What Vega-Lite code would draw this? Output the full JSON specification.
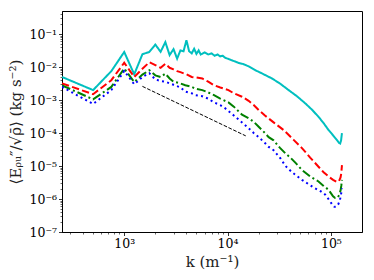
{
"$schema":"https://vega.github.io/schema/vega-lite/v6.json",
"width":300,"height":221,
"autosize":{"type":"none"},
"padding":{"left":62,"top":11,"right":12,"bottom":48},
"background":"white",
"config":{"view":{"stroke":"black","strokeWidth":1},
"axis":{"grid":false,"labelFont":"DejaVu Serif","titleFont":"DejaVu Serif","labelFontSize":12.5,"titleFontSize":15,"titleFontWeight":"normal","labelColor":"black","titleColor":"#222","tickColor":"black","domainColor":"black","tickSize":3.5,"tickWidth":0.8,"labelPadding":2}},
"datasets":{
"main":[
{"s":"c","k":250,"E":0.005},{"s":"c","k":500,"E":0.002},{"s":"c","k":750,"E":0.0075},{"s":"c","k":1000,"E":0.0286},{"s":"c","k":1250,"E":0.006},{"s":"c","k":1500,"E":0.0245},{"s":"c","k":1750,"E":0.0286},{"s":"c","k":2000,"E":0.048},{"s":"c","k":2250,"E":0.029},{"s":"c","k":2500,"E":0.057},{"s":"c","k":2750,"E":0.023},{"s":"c","k":3000,"E":0.035},{"s":"c","k":3250,"E":0.018},{"s":"c","k":3500,"E":0.032},{"s":"c","k":3750,"E":0.03},{"s":"c","k":4000,"E":0.065},{"s":"c","k":4250,"E":0.03},{"s":"c","k":4500,"E":0.026},{"s":"c","k":4750,"E":0.036},{"s":"c","k":5000,"E":0.025},{"s":"c","k":5250,"E":0.032},{"s":"c","k":5500,"E":0.024},{"s":"c","k":6000,"E":0.028},{"s":"c","k":6500,"E":0.024},{"s":"c","k":7000,"E":0.026},{"s":"c","k":7500,"E":0.022},{"s":"c","k":8000,"E":0.024},{"s":"c","k":8500,"E":0.021},{"s":"c","k":9000,"E":0.022},{"s":"c","k":9500,"E":0.019},{"s":"c","k":10000,"E":0.018},{"s":"c","k":11000,"E":0.016},{"s":"c","k":12000,"E":0.0145},{"s":"c","k":12800,"E":0.0133},{"s":"c","k":14000,"E":0.0125},{"s":"c","k":16000,"E":0.0105},{"s":"c","k":18600,"E":0.008},{"s":"c","k":22000,"E":0.0062},{"s":"c","k":26900,"E":0.0045},{"s":"c","k":32000,"E":0.0032},{"s":"c","k":39000,"E":0.002},{"s":"c","k":47000,"E":0.0013},{"s":"c","k":56600,"E":0.00079},{"s":"c","k":66000,"E":0.0005},{"s":"c","k":75900,"E":0.00031},{"s":"c","k":85000,"E":0.0002},{"s":"c","k":95000,"E":0.000123},{"s":"c","k":105000,"E":0.000085},{"s":"c","k":114000,"E":0.000062},{"s":"c","k":120000,"E":0.00005},{"s":"c","k":123000,"E":0.000048},{"s":"c","k":125500,"E":0.00006},{"s":"c","k":128000,"E":0.0001},
{"s":"r","k":250,"E":0.0032},{"s":"r","k":500,"E":0.0015},{"s":"r","k":750,"E":0.004},{"s":"r","k":1000,"E":0.0135},{"s":"r","k":1250,"E":0.005},{"s":"r","k":1500,"E":0.0089},{"s":"r","k":1750,"E":0.014},{"s":"r","k":2000,"E":0.0115},{"s":"r","k":2250,"E":0.0095},{"s":"r","k":2500,"E":0.0125},{"s":"r","k":2750,"E":0.0095},{"s":"r","k":3000,"E":0.0085},{"s":"r","k":3250,"E":0.0075},{"s":"r","k":3500,"E":0.007},{"s":"r","k":4000,"E":0.006},{"s":"r","k":4500,"E":0.005},{"s":"r","k":5000,"E":0.0048},{"s":"r","k":5700,"E":0.0045},{"s":"r","k":6500,"E":0.0036},{"s":"r","k":7400,"E":0.0028},{"s":"r","k":8500,"E":0.0024},{"s":"r","k":10200,"E":0.002},{"s":"r","k":11500,"E":0.0016},{"s":"r","k":13800,"E":0.00126},{"s":"r","k":16000,"E":0.00095},{"s":"r","k":17900,"E":0.00071},{"s":"r","k":20000,"E":0.0005},{"s":"r","k":23000,"E":0.00034},{"s":"r","k":27900,"E":0.00021},{"s":"r","k":34900,"E":0.000123},{"s":"r","k":43600,"E":0.000062},{"s":"r","k":52500,"E":0.000035},{"s":"r","k":63000,"E":0.000018},{"s":"r","k":75900,"E":0.0000095},{"s":"r","k":85000,"E":0.0000065},{"s":"r","k":95000,"E":0.0000048},{"s":"r","k":105000,"E":0.0000038},{"s":"r","k":114000,"E":0.0000033},{"s":"r","k":120000,"E":0.0000035},{"s":"r","k":124000,"E":0.0000045},{"s":"r","k":126000,"E":0.000006},{"s":"r","k":128000,"E":0.0000107},
{"s":"g","k":250,"E":0.0028},{"s":"g","k":500,"E":0.00105},{"s":"g","k":750,"E":0.0025},{"s":"g","k":1000,"E":0.009},{"s":"g","k":1250,"E":0.0035},{"s":"g","k":1500,"E":0.0059},{"s":"g","k":1750,"E":0.008},{"s":"g","k":2000,"E":0.0056},{"s":"g","k":2250,"E":0.005},{"s":"g","k":2500,"E":0.0063},{"s":"g","k":2750,"E":0.0045},{"s":"g","k":3000,"E":0.0036},{"s":"g","k":3500,"E":0.0032},{"s":"g","k":3900,"E":0.0028},{"s":"g","k":4500,"E":0.0025},{"s":"g","k":4900,"E":0.0022},{"s":"g","k":5700,"E":0.002},{"s":"g","k":6500,"E":0.0017},{"s":"g","k":7400,"E":0.0014},{"s":"g","k":8500,"E":0.0011},{"s":"g","k":10200,"E":0.00085},{"s":"g","k":11500,"E":0.00063},{"s":"g","k":13800,"E":0.00036},{"s":"g","k":16000,"E":0.00028},{"s":"g","k":17900,"E":0.00022},{"s":"g","k":20000,"E":0.000155},{"s":"g","k":23000,"E":0.0001},{"s":"g","k":25000,"E":0.000075},{"s":"g","k":27900,"E":0.00006},{"s":"g","k":32000,"E":0.000036},{"s":"g","k":36400,"E":0.000024},{"s":"g","k":40500,"E":0.000018},{"s":"g","k":46000,"E":0.000012},{"s":"g","k":52500,"E":0.0000076},{"s":"g","k":63000,"E":0.0000048},{"s":"g","k":75900,"E":0.0000034},{"s":"g","k":85000,"E":0.0000025},{"s":"g","k":95000,"E":0.0000019},{"s":"g","k":105000,"E":0.0000012},{"s":"g","k":110000,"E":0.00000107},{"s":"g","k":116000,"E":0.0000011},{"s":"g","k":120000,"E":0.0000013},{"s":"g","k":124000,"E":0.0000018},{"s":"g","k":126000,"E":0.0000025},{"s":"g","k":128000,"E":0.0000038},
{"s":"b","k":250,"E":0.0025},{"s":"b","k":500,"E":0.00076},{"s":"b","k":750,"E":0.002},{"s":"b","k":1000,"E":0.0076},{"s":"b","k":1250,"E":0.003},{"s":"b","k":1500,"E":0.005},{"s":"b","k":1750,"E":0.0065},{"s":"b","k":2000,"E":0.0042},{"s":"b","k":2250,"E":0.0038},{"s":"b","k":2500,"E":0.0036},{"s":"b","k":2750,"E":0.0032},{"s":"b","k":3000,"E":0.0029},{"s":"b","k":3500,"E":0.0024},{"s":"b","k":3900,"E":0.0018},{"s":"b","k":4500,"E":0.0016},{"s":"b","k":4900,"E":0.0014},{"s":"b","k":5700,"E":0.0013},{"s":"b","k":6500,"E":0.0011},{"s":"b","k":7400,"E":0.00085},{"s":"b","k":8500,"E":0.0007},{"s":"b","k":9500,"E":0.00056},{"s":"b","k":11500,"E":0.00034},{"s":"b","k":13800,"E":0.00021},{"s":"b","k":16000,"E":0.00014},{"s":"b","k":17900,"E":0.0001},{"s":"b","k":20000,"E":0.000075},{"s":"b","k":23000,"E":0.00005},{"s":"b","k":25000,"E":0.000038},{"s":"b","k":27900,"E":0.00003},{"s":"b","k":32500,"E":0.000017},{"s":"b","k":36400,"E":0.00001},{"s":"b","k":42000,"E":0.0000065},{"s":"b","k":52500,"E":0.0000038},{"s":"b","k":62000,"E":0.0000027},{"s":"b","k":70500,"E":0.0000021},{"s":"b","k":80000,"E":0.0000017},{"s":"b","k":88300,"E":0.00000135},{"s":"b","k":97000,"E":0.0000009},{"s":"b","k":103000,"E":0.00000068},{"s":"b","k":108000,"E":0.00000058},{"s":"b","k":113000,"E":0.00000059},{"s":"b","k":118000,"E":0.0000007},{"s":"b","k":122000,"E":0.0000009},{"s":"b","k":125000,"E":0.0000013},{"s":"b","k":128000,"E":0.0000021}
],
"ref":[{"s":"ref","k":1500,"E":0.0026},{"s":"ref","k":15000,"E":0.000082}]
},
"resolve":{"axis":{"x":"independent","y":"independent"}},
"layer":[
{"data":{"name":"main"},
"mark":{"type":"line","strokeCap":"butt","clip":true},
"encoding":{
"x":{"field":"k","type":"quantitative","scale":{"type":"log","domain":[250,200000],"nice":false},
"axis":{"orient":"bottom","values":[1000,10000,100000],"labelExpr":"datum.value==1000?'10³':datum.value==10000?'10⁴':'10⁵'","title":"k (m⁻¹)","titlePadding":4}},
"y":{"field":"E","type":"quantitative","scale":{"type":"log","domain":[1e-7,0.5],"nice":false},
"axis":{"orient":"left","values":[1e-7,1e-6,1e-5,1e-4,1e-3,1e-2,1e-1],"labelExpr":"'10⁻' + ['0','¹','²','³','⁴','⁵','⁶','⁷'][round(-log(datum.value)/LN10)]","title":"⟨Eᵨᵤ″/√ρ̄⟩ (kg s⁻²)","titlePadding":5}},
"color":{"field":"s","type":"nominal","scale":{"domain":["c","r","g","b"],"range":["#00bfbf","#ff0000","#008000","#0000ff"]},"legend":null},
"strokeDash":{"field":"s","type":"nominal","scale":{"domain":["c","r","g","b"],"range":[[1,0],[7.4,3.2],[9,3,2,3],[2,3.3]]},"legend":null},
"strokeWidth":{"value":2},
"order":{"field":"k","type":"quantitative"}
}},
{"data":{"name":"ref"},
"mark":{"type":"line","color":"black","strokeWidth":1,"strokeDash":[3.7,1.6]},
"encoding":{
"x":{"field":"k","type":"quantitative","axis":{"orient":"bottom","values":[300,400,500,600,700,800,900,2000,3000,4000,5000,6000,7000,8000,9000,20000,30000,40000,50000,60000,70000,80000,90000],"labels":false,"title":null,"domain":false,"tickSize":2,"tickWidth":0.6}},
"y":{"field":"E","type":"quantitative","axis":{"orient":"left","values":[2e-7,3e-7,4e-7,5e-7,6e-7,7e-7,8e-7,9e-7,2e-6,3e-6,4e-6,5e-6,6e-6,7e-6,8e-6,9e-6,2e-5,3e-5,4e-5,5e-5,6e-5,7e-5,8e-5,9e-5,2e-4,3e-4,4e-4,5e-4,6e-4,7e-4,8e-4,9e-4,2e-3,3e-3,4e-3,5e-3,6e-3,7e-3,8e-3,9e-3,2e-2,3e-2,4e-2,5e-2,6e-2,7e-2,8e-2,9e-2,2e-1,3e-1,4e-1],"labels":false,"title":null,"domain":false,"tickSize":2,"tickWidth":0.6}}
}}
]
}
